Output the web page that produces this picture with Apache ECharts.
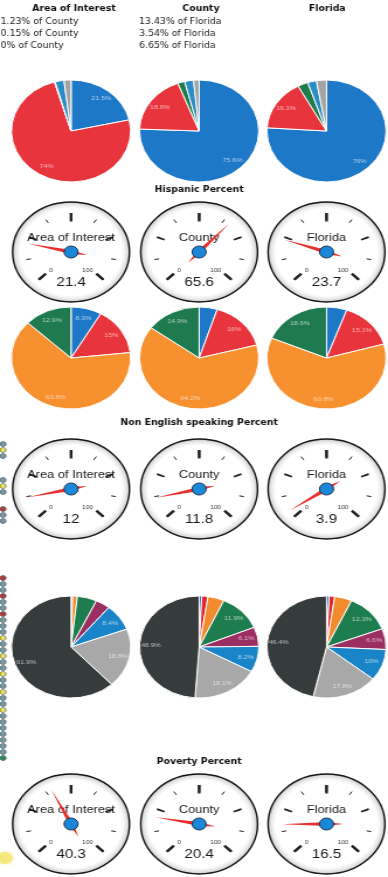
<!DOCTYPE html>
<html>
<head>
<meta charset="utf-8">
<script src="https://cdn.jsdelivr.net/npm/echarts@6/dist/echarts.min.js"></script>
<style>
  html, body { margin: 0; padding: 0; background: #fff; overflow: hidden; }
  #wrap { width: 388px; height: 877px; overflow: hidden; position: relative; }
  /* the dashboard is drawn on a narrower canvas and widened to fill the page */
  #chart { width: 332px; height: 877px; transform: scaleX(1.1687); transform-origin: 0 0; }
</style>
</head>
<body>
<div id="wrap"><div id="chart"></div></div>
<script>
// ---- data ----
const columnNames = ['Area of Interest', 'County', 'Florida'];
const countyShare = ['1.23% of County', '0.15% of County', '0% of County'];
const floridaShare = ['13.43% of Florida', '3.54% of Florida', '6.65% of Florida'];

const raceGroups = ['Group 1', 'Group 2', 'Group 3', 'Group 4', 'Group 5'];
const raceAreaOfInterest = [21.5, 74, 0.2, 2.4, 1.9];
const raceCounty = [75.6, 18.6, 1.9, 2.4, 1.5];
const raceFlorida = [76, 16.1, 2.8, 2.4, 2.7];

const hispanicTitle = 'Hispanic Percent';
const hispanicPercent = [21.4, 65.6, 23.7];

const languageGroups = ['Group 1', 'Group 2', 'Group 3', 'Group 4'];
const languageAreaOfInterest = [8.3, 15, 63.8, 12.9];
const languageCounty = [4.9, 16, 64.2, 14.9];
const languageFlorida = [5.5, 15.1, 60.8, 18.6];

const nonEnglishTitle = 'Non English speaking Percent';
const nonEnglishPercent = [12, 11.8, 3.9];

const incomeGroups = ['Group 1', 'Group 2', 'Group 3', 'Group 4', 'Group 5', 'Group 6', 'Group 7', 'Group 8'];
const incomeAreaOfInterest = [0.2, 0.2, 1.3, 5.3, 3.9, 8.4, 18.8, 61.9];
const incomeCounty = [0.7, 1.7, 4.4, 11.9, 6.1, 8.2, 18.1, 48.9];
const incomeFlorida = [0.7, 1.5, 4.7, 12.3, 6.6, 10, 17.8, 46.4];

const povertyTitle = 'Poverty Percent';
const povertyPercent = [40.3, 20.4, 16.5];

const gaugeTicks = [0, 100];

// ---- styling ----
const raceColors = ['#1e78c8', '#e8343c', '#1f7a4c', '#2a8cc4', '#a3a3a3'];
const languageColors = ['#1e78c8', '#e8343c', '#f7902e', '#1f7a50'];
const incomeColors = ['#2a6fd0', '#e3262b', '#f28a2e', '#1e7d4e', '#9c2f62', '#1a84c8', '#a8a8a8', '#363b3b'];

const colX = [60.8, 170.4, 279.4];
const pieRowY = [131, 358, 647];
const gaugeRowY = [252, 489, 824];
const sectionTitleY = [190, 423, 762];

const PIE_R = 51;

// status beads running down the left margin (g = grey, y = yellow, r = red, e = green)
const beadGroups = [
  { top: 444, beads: 'gyg' },
  { top: 480, beads: 'gyg' },
  { top: 509, beads: 'rgg' },
  { top: 578, beads: 'rggrggrgggyggyggyggyggyggggggge' }
];
const beadColors = { g: '#7d969f', y: '#e9dd55', r: '#b23a3a', e: '#2e8a55' };

function pieSeries(cx, cy, groups, values, colors) {
  const data = groups.map((g, i) => ({ name: g, value: values[i], itemStyle: { color: colors[i] } }));
  return [
    {
      type: 'pie', z: 2, center: [cx, cy], radius: [0, PIE_R], startAngle: 90, clockwise: true,
      silent: true, animation: false, minAngle: 0,
      itemStyle: { borderColor: '#ffffff', borderWidth: 1 },
      label: { show: false }, labelLine: { show: false },
      data: data
    },
    {
      // value labels, placed on a ring so they sit toward the rim
      type: 'pie', z: 3, center: [cx, cy], radius: [PIE_R * 0.5, PIE_R], startAngle: 90, clockwise: true,
      silent: true, animation: false,
      itemStyle: { color: 'rgba(0,0,0,0)' },
      label: {
        show: true, position: 'inside',
        formatter: p => (p.value >= 6 ? p.value + '%' : ''),
        color: 'rgba(255,255,255,0.62)', fontSize: 6, fontFamily: 'Liberation Sans'
      },
      labelLine: { show: false },
      data: groups.map((g, i) => ({ name: g, value: values[i] }))
    }
  ];
}

function gaugeSeries(cx, cy, name, value) {
  const base = {
    type: 'gauge', z: 5, center: [cx, cy], radius: 40, startAngle: 225, endAngle: -45,
    min: 0, max: 100, silent: true, animation: false,
    axisLine: { show: true, lineStyle: { width: 1, color: [[1, 'rgba(255,255,255,0)']] } },
    progress: { show: false },
    axisTick: { show: false }, axisLabel: { show: false },
    pointer: { show: false }, anchor: { show: false },
    title: { show: false }, detail: { show: false }
  };
  return [
    {
      // dial face with bezel
      type: 'pie', z: 1, center: [cx, cy], radius: [0, 50], silent: true, animation: false,
      label: { show: false }, labelLine: { show: false },
      itemStyle: {
        color: {
          type: 'radial', x: 0.5, y: 0.5, r: 0.5,
          colorStops: [
            { offset: 0, color: '#ffffff' }, { offset: 0.86, color: '#ffffff' },
            { offset: 0.92, color: '#ececec' }, { offset: 0.97, color: '#d2d2d2' },
            { offset: 1, color: '#c4c4c4' }
          ]
        },
        borderColor: '#151515', borderWidth: 1.4
      },
      data: [{ name: name, value: 1 }]
    },
    Object.assign({}, base, {
      splitNumber: 8,
      splitLine: { show: true, length: 4, distance: 0, lineStyle: { color: '#222', width: 1 } },
      data: [{ value: 0 }]
    }),
    Object.assign({}, base, {
      splitNumber: 4,
      splitLine: { show: true, length: 7, distance: 0, lineStyle: { color: '#222', width: 1.8 } },
      data: [{ value: 0 }]
    }),
    Object.assign({}, base, {
      z: 6,
      splitNumber: 2,
      splitLine: { show: true, length: 8.5, distance: 0, lineStyle: { color: '#222', width: 2.3 } },
      axisLabel: {
        show: true, distance: 5, fontSize: 5.5, color: '#333', fontFamily: 'Liberation Sans',
        formatter: v => (gaugeTicks.indexOf(v) >= 0 ? String(v) : '')
      },
      pointer: {
        show: true, icon: 'path://M50,0 L100,730 L50,1000 L0,730 Z',
        length: 52, width: 4, offsetCenter: [0, 14],
        itemStyle: { color: '#e8302e' }
      },
      anchor: {
        show: true, showAbove: true, size: 12,
        itemStyle: { color: '#1b87d9', borderColor: '#1d3552', borderWidth: 1 }
      },
      title: {
        show: true, offsetCenter: [0, -14], fontSize: 11, color: '#1a1a1a',
        fontFamily: 'Liberation Sans'
      },
      detail: {
        show: true, offsetCenter: [0, 30], fontSize: 13, fontWeight: 'normal', color: '#1a1a1a',
        fontFamily: 'Liberation Sans', formatter: '{value}', valueAnimation: false
      },
      data: [{ value: value, name: name }]
    })
  ];
}

const series = [];
const raceRows = [raceAreaOfInterest, raceCounty, raceFlorida];
const languageRows = [languageAreaOfInterest, languageCounty, languageFlorida];
const incomeRows = [incomeAreaOfInterest, incomeCounty, incomeFlorida];

for (let c = 0; c < 3; c++) {
  series.push(...pieSeries(colX[c], pieRowY[0], raceGroups, raceRows[c], raceColors));
  series.push(...gaugeSeries(colX[c], gaugeRowY[0], columnNames[c], hispanicPercent[c]));
  series.push(...pieSeries(colX[c], pieRowY[1], languageGroups, languageRows[c], languageColors));
  series.push(...gaugeSeries(colX[c], gaugeRowY[1], columnNames[c], nonEnglishPercent[c]));
  series.push(...pieSeries(colX[c], pieRowY[2], incomeGroups, incomeRows[c], incomeColors));
  series.push(...gaugeSeries(colX[c], gaugeRowY[2], columnNames[c], povertyPercent[c]));
}

// ---- header, section titles and margin decoration ----
const boldFont = 'bold 8px "DejaVu Sans"';
const plainFont = '8px "DejaVu Sans"';
const graphics = [];
columnNames.forEach((n, c) => {
  graphics.push({ type: 'text', x: [63.3, 172, 280][c], y: 9, silent: true,
    style: { text: n, font: boldFont, fill: '#111', align: 'center', verticalAlign: 'middle' } });
});
countyShare.forEach((t, i) => {
  graphics.push({ type: 'text', x: 0.5, y: 22 + i * 12, silent: true,
    style: { text: t, font: plainFont, fill: '#222', align: 'left', verticalAlign: 'middle' } });
});
floridaShare.forEach((t, i) => {
  graphics.push({ type: 'text', x: 119, y: 22 + i * 12, silent: true,
    style: { text: t, font: plainFont, fill: '#222', align: 'left', verticalAlign: 'middle' } });
});
[hispanicTitle, nonEnglishTitle, povertyTitle].forEach((t, i) => {
  graphics.push({ type: 'text', x: 170.4, y: sectionTitleY[i], silent: true,
    style: { text: t, font: boldFont, fill: '#111', align: 'center', verticalAlign: 'middle' } });
});
beadGroups.forEach(grp => {
  grp.beads.split('').forEach((k, i) => {
    graphics.push({ type: 'ellipse', silent: true, z: 1,
      shape: { cx: 2.6, cy: grp.top + i * 6, rx: 2.6, ry: 2.6 },
      style: { fill: beadColors[k], stroke: '#3d5560', lineWidth: 0.6 } });
  });
});
graphics.push({ type: 'ellipse', silent: true, z: 0,
  shape: { cx: 4, cy: 858, rx: 7, ry: 6 },
  style: { fill: 'rgba(243,228,100,0.75)', shadowBlur: 4, shadowColor: 'rgba(243,228,100,0.6)' } });

const chart = echarts.init(document.getElementById('chart'), null, { renderer: 'canvas' });
chart.setOption({
  animation: false,
  backgroundColor: '#ffffff',
  graphic: graphics,
  series: series
});
</script>
</body>
</html>
